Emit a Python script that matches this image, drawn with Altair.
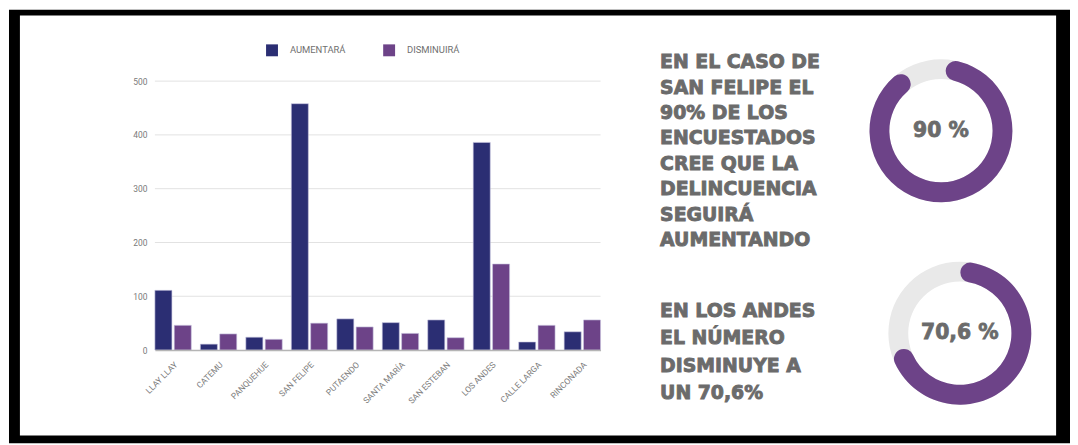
import math
import altair as alt
import pandas as pd

# ---------------- data ----------------
municipios = ["LLAY LLAY", "CATEMU", "PANQUEHUE", "SAN FELIPE", "PUTAENDO",
              "SANTA MARÍA", "SAN ESTEBAN", "LOS ANDES", "CALLE LARGA", "RINCONADA"]
aumentara = [111, 11, 24, 458, 58, 51, 56, 386, 15, 34]
disminuira = [46, 30, 20, 50, 43, 31, 23, 160, 46, 56]
series = ["AUMENTARÁ", "DISMINUIRÁ"]
colores = ["#2b2e73", "#6d4388"]
y_ticks = [0, 100, 200, 300, 400, 500]

texto1 = ["EN EL CASO DE", "SAN FELIPE EL", "90% DE LOS", "ENCUESTADOS",
          "CREE QUE LA", "DELINCUENCIA", "SEGUIRÁ", "AUMENTANDO"]
texto2 = ["EN LOS ANDES", "EL NÚMERO", "DISMINUYE A", "UN 70,6%"]
porcentajes = [90, 70.6]
etiquetas_pct = ["90 %", "70,6 %"]

# ---------------- layout ----------------
W, H = 1070, 437
GRAY_TXT = "#6b6b6b"
PURPLE = "#6d4388"
RING = "#e9e9e9"

rows = []
for m, a, d in zip(municipios, aumentara, disminuira):
    rows.append({"municipio": m, "serie": series[0], "valor": a})
    rows.append({"municipio": m, "serie": series[1], "valor": d})
df = pd.DataFrame(rows)

one = pd.DataFrame({"k": [0]})

x_scale = alt.Scale(domain=municipios, range=[148, 597], paddingInner=0.2, paddingOuter=0)
y_scale = alt.Scale(domain=[0, 500], range=[343, 72], nice=False)
y_axis = alt.Axis(title=None, values=y_ticks, domain=False, ticks=False, grid=False,
                  labelFontSize=8.5, labelColor="#7a7a7a", labelFont="Roboto",
                  offset=-142, labelPadding=2, zindex=2)

frame_outer = alt.Chart(one).mark_rect(color="#000000").encode(
    x=alt.value(1), x2=alt.value(W), y=alt.value(0), y2=alt.value(H))
frame_inner = alt.Chart(one).mark_rect(color="#ffffff").encode(
    x=alt.value(12), x2=alt.value(1056), y=alt.value(6), y2=alt.value(429))

grid = alt.Chart(pd.DataFrame({"valor": y_ticks[1:]})).mark_rule(
    color="#e2e2e2", strokeWidth=1).encode(
    y=alt.Y("valor:Q", scale=y_scale, axis=y_axis),
    x=alt.value(148), x2=alt.value(597))

bars = alt.Chart(df).mark_bar(stroke="#c9c6e0", strokeWidth=0.6).encode(
    x=alt.X("municipio:N", scale=x_scale, sort=municipios,
            axis=alt.Axis(title=None, labelAngle=-45, labelAlign="right", labelBaseline="top",
                          labelFontSize=8.5, labelColor="#7a7a7a", labelFont="Roboto",
                          domainColor="#b5b5b5", domainWidth=1.5, ticks=False, grid=False,
                          offset=-94, labelPadding=10, zindex=2)),
    xOffset=alt.XOffset("serie:N", scale=alt.Scale(domain=series, paddingInner=0.12)),
    y=alt.Y("valor:Q", scale=y_scale, axis=y_axis),
    color=alt.Color("serie:N", scale=alt.Scale(domain=series, range=colores),
                    legend=alt.Legend(title=None, orient="none", legendX=260, legendY=35,
                                      direction="horizontal", symbolType="square",
                                      symbolSize=144, symbolStrokeWidth=0,
                                      labelFontSize=9.5, labelColor="#6f6f6f", labelFont="Roboto",
                                      labelOffset=12, columnPadding=37, padding=0)),
)

txt1 = alt.Chart(one).mark_text(
    align="left", baseline="alphabetic", font="DejaVu Sans", fontWeight="bold",
    fontSize=19, lineHeight=25.6, color=GRAY_TXT, stroke=GRAY_TXT, strokeWidth=0.9).encode(
    x=alt.value(657), y=alt.value(59), text=alt.value(texto1))

txt2 = alt.Chart(one).mark_text(
    align="left", baseline="alphabetic", font="DejaVu Sans", fontWeight="bold",
    fontSize=19, lineHeight=27.3, color=GRAY_TXT, stroke=GRAY_TXT, strokeWidth=0.9).encode(
    x=alt.value(657), y=alt.value(310), text=alt.value(texto2))

centros = [(940, 122, 4.5), (959, 326, 0.5)]
donut_layers = []
for i, (cx, cy, start_deg) in enumerate(centros):
    s = math.radians(start_deg)
    d = pd.DataFrame({"pct": [porcentajes[i]], "label": [etiquetas_pct[i]]})
    ring = alt.Chart(one).mark_arc(radius=72, radius2=52, color=RING).encode(
        theta=alt.value(0), theta2=alt.value(2 * math.pi),
        x=alt.value(cx), y=alt.value(cy))
    arc = alt.Chart(d).mark_arc(radius=72, radius2=52, cornerRadius=10, color=PURPLE).encode(
        theta=alt.Theta("pct:Q", stack=True,
                        scale=alt.Scale(domain=[0, 100], range=[s, s + 2 * math.pi])),
        x=alt.value(cx), y=alt.value(cy))
    lab = alt.Chart(d).mark_text(
        align="center", baseline="middle", font="DejaVu Sans", fontWeight="bold",
        fontSize=20.5, color=GRAY_TXT, stroke=GRAY_TXT, strokeWidth=0.8).encode(
        x=alt.value(cx), y=alt.value(cy), text="label:N")
    donut_layers += [ring, arc, lab]

chart = alt.layer(frame_outer, frame_inner, grid, bars, txt1, txt2, *donut_layers).resolve_scale(
    theta="independent").properties(
    width=W, height=H, padding=0, autosize=alt.AutoSizeParams(type="none"),
    background="#ffffff").configure_view(strokeWidth=0)

chart.save("out.html", embed_options={"renderer": "svg", "actions": False})
